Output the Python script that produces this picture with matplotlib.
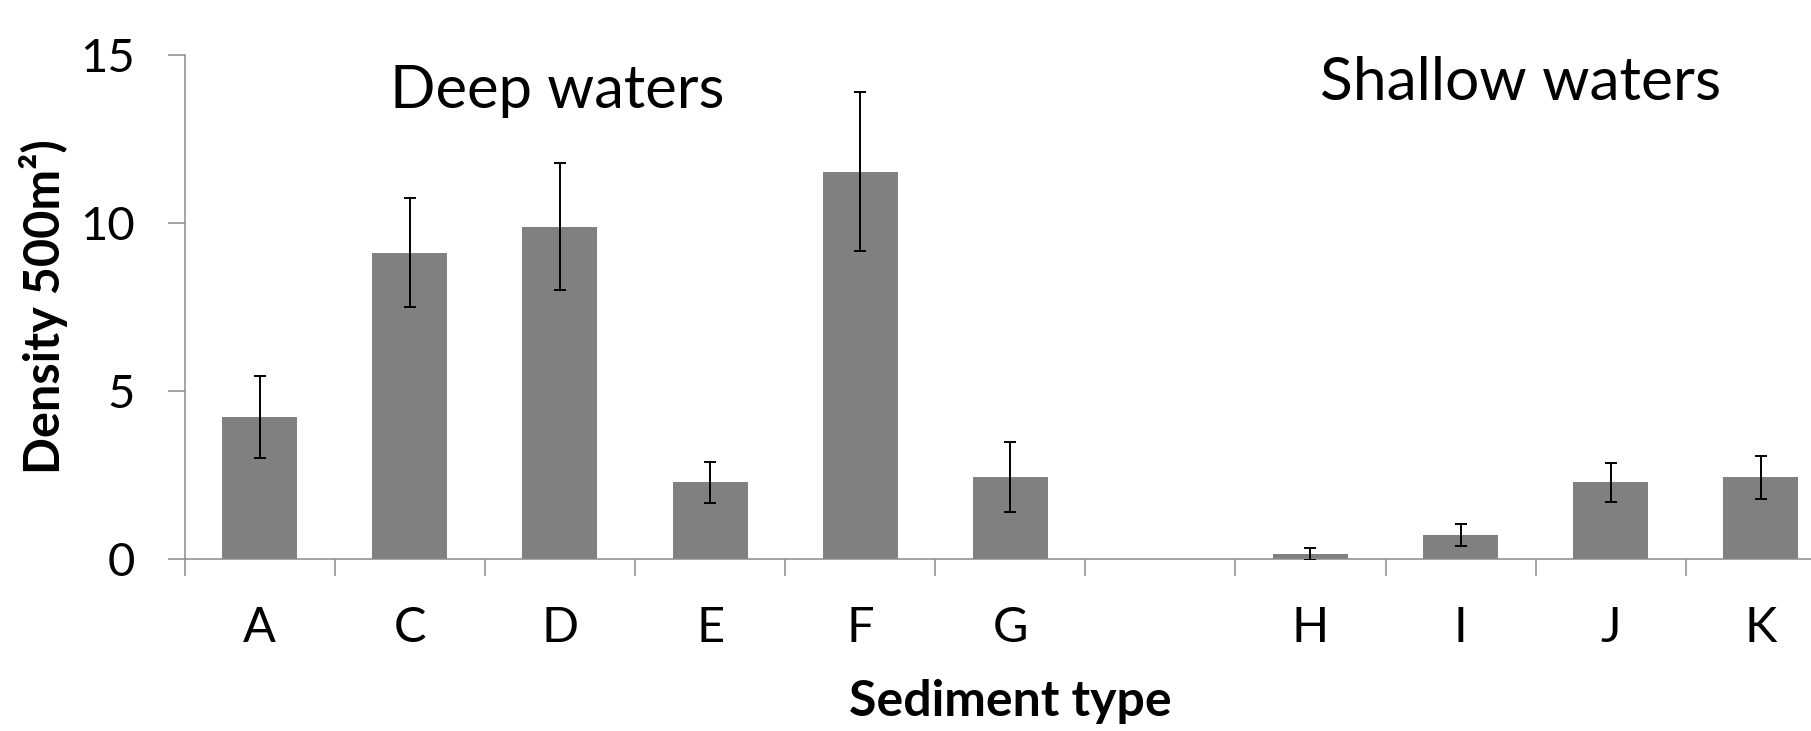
import numpy as np
import matplotlib.pyplot as plt
from matplotlib.ticker import FixedLocator

# values (blank slot separates deep and shallow)
categories = ['A', 'C', 'D', 'E', 'F', 'G', '', 'H', 'I', 'J', 'K']
density = [4.22, 9.12, 9.89, 2.28, 11.53, 2.44, np.nan, 0.15, 0.71, 2.28, 2.43]
errors = [1.22, 1.62, 1.89, 0.61, 2.37, 1.04, np.nan, 0.17, 0.33, 0.57, 0.63]

plt.rcParams['font.family'] = ['Lato', 'DejaVu Sans']

BAR_COLOR = '#808080'
AXIS_COLOR = '#8c8c8c'


def plot_density():
    fig = plt.figure(figsize=(18.11, 7.31), dpi=100)
    # right edge runs past the figure, as in the cropped original
    ax = fig.add_axes([0.102, 0.2353, 0.9117, 0.6895])

    x = np.arange(len(categories))
    ax.bar(x, density, width=0.5, color=BAR_COLOR, zorder=2)
    ax.errorbar(x, density, yerr=errors, fmt='none', ecolor='black',
                elinewidth=1.4, capsize=4, capthick=1.4, zorder=3)

    ax.set_xlim(-0.5, len(categories) - 0.5)
    ax.set_ylim(0, 15)
    ax.set_yticks([0, 5, 10, 15])

    # labels at category centres, tick marks between categories
    ax.set_xticks(x)
    ax.set_xticklabels(categories)
    ax.xaxis.set_minor_locator(FixedLocator(np.arange(len(categories)) - 0.5))
    ax.tick_params(axis='x', which='major', length=0, pad=34, labelsize=35)
    ax.tick_params(axis='x', which='minor', length=12, width=1.1,
                   color=AXIS_COLOR, direction='out')
    ax.tick_params(axis='y', length=12, width=1.1, color=AXIS_COLOR,
                   pad=24, labelsize=34)

    for side in ['top', 'right']:
        ax.spines[side].set_visible(False)
    for side in ['left', 'bottom']:
        ax.spines[side].set_color(AXIS_COLOR)
        ax.spines[side].set_linewidth(1.1)

    ax.text(1.98, 13.42, 'Deep waters', ha='center', va='baseline', fontsize=43)
    ax.text(8.40, 13.66, 'Shallow waters', ha='center', va='baseline', fontsize=43.5)

    fig.text(0.024, 0.58, 'Density 500m\u00b2)', rotation=90, ha='center',
             va='center', fontsize=35, fontweight='bold')
    fig.text(0.558, 0.02, 'Sediment type', ha='center', va='baseline',
             fontsize=36, fontweight='bold')

    fig.savefig('out.png', dpi=100)


if __name__ == "__main__":
    plot_density()
